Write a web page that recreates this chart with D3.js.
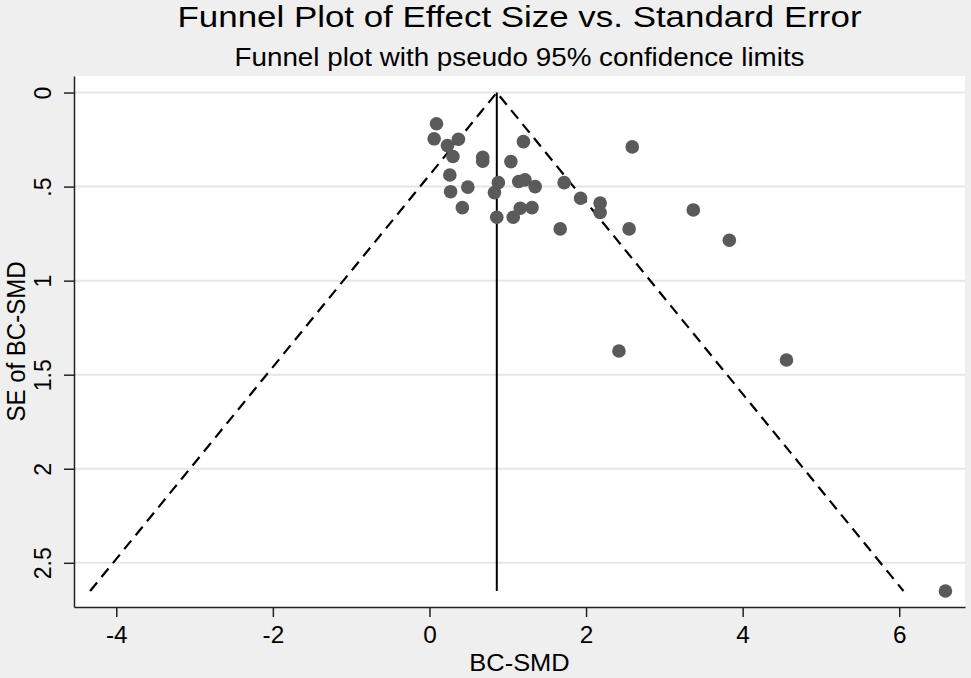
<!DOCTYPE html>
<html lang="en">
<head>
<meta charset="UTF-8">
<title>Funnel Plot of Effect Size vs. Standard Error</title>
<script src="https://d3js.org/d3.v7.min.js"></script>
<style>
  body { margin: 0; background: #efefef; font-family: "Liberation Sans", Arial, sans-serif; }
  svg { display: block; }
  .axis path, .axis line { stroke: #222; }
  .axis text { fill: #000; font-size: 23px; font-family: "Liberation Sans", Arial, sans-serif; }
</style>
</head>
<body>
<svg id="chart" width="971" height="678"></svg>
<script>
  // study effect sizes (BC-SMD) and their standard errors
  const smd = [0.09, 0.06, 0.23, 0.37, 0.30, 0.68, 0.68, 1.04, 1.20, 0.26, 0.27,
               0.49, 0.88, 0.83, 1.14, 1.22, 1.35, 0.42, 0.86, 1.07, 1.16, 1.31,
               1.72, 1.93, 2.18, 2.18, 1.67, 2.55, 3.37, 3.83, 2.42, 4.56, 2.59, 6.59];
  const se  = [0.166, 0.246, 0.282, 0.248, 0.340, 0.344, 0.365, 0.367, 0.261, 0.438, 0.527,
               0.503, 0.479, 0.532, 0.473, 0.464, 0.500, 0.612, 0.663, 0.663, 0.615, 0.612,
               0.479, 0.562, 0.588, 0.638, 0.725, 0.725, 0.624, 0.785, 1.374, 1.422, 0.289, 2.650];
  const pooled = 0.86;
  const xTicks = [-4, -2, 0, 2, 4, 6];
  const yTicks = [0, 0.5, 1, 1.5, 2, 2.5];
  const yTickLabels = ["0", ".5", "1", "1.5", "2", "2.5"];

  const svg = d3.select("#chart");
  const plot = { left: 74, top: 76, right: 965, bottom: 607 };
  const stretch = 1.06; // glyphs in the original are a bit wide

  const x = d3.scaleLinear().domain([-4.54, 6.84]).range([plot.left, plot.right]);
  const y = d3.scaleLinear().domain([-0.088, 2.735]).range([plot.top, plot.bottom]);

  svg.append("rect")
    .attr("x", plot.left).attr("y", plot.top)
    .attr("width", plot.right - plot.left).attr("height", plot.bottom - plot.top)
    .attr("fill", "#fff");

  // gridlines
  svg.append("g").selectAll("line")
    .data(yTicks)
    .join("line")
    .attr("x1", plot.left).attr("x2", plot.right)
    .attr("y1", d => y(d)).attr("y2", d => y(d))
    .attr("stroke", "#e6e6e6").attr("stroke-width", 2);

  // funnel limits
  const maxSe = d3.max(se);
  const funnel = [[pooled - 1.96 * maxSe, maxSe], [pooled, 0], [pooled + 1.96 * maxSe, maxSe]];
  svg.append("path")
    .attr("d", d3.line().x(d => x(d[0])).y(d => y(d[1]))(funnel))
    .attr("fill", "none").attr("stroke", "#000")
    .attr("stroke-width", 2.2).attr("stroke-dasharray", "11,7");

  svg.append("line")
    .attr("x1", x(pooled)).attr("x2", x(pooled))
    .attr("y1", y(0)).attr("y2", y(maxSe))
    .attr("stroke", "#000").attr("stroke-width", 2);

  svg.append("g").selectAll("circle")
    .data(smd.map((d, i) => [d, se[i]]))
    .join("circle")
    .attr("cx", d => x(d[0])).attr("cy", d => y(d[1]))
    .attr("r", 6.8).attr("fill", "#5a5a5a");

  // axes
  const xAxis = svg.append("g").attr("class", "axis")
    .attr("transform", `translate(0,${plot.bottom})`)
    .call(d3.axisBottom(x).tickValues(xTicks).tickFormat(d => String(d))
      .tickSize(10).tickPadding(10).tickSizeOuter(0));
  xAxis.select(".domain").attr("stroke-width", 1.5);
  xAxis.selectAll(".tick line").attr("stroke-width", 1.5);
  xAxis.selectAll(".tick text").attr("transform", `scale(${stretch},1)`);

  const yAxis = svg.append("g").attr("class", "axis")
    .attr("transform", `translate(${plot.left},0)`)
    .call(d3.axisLeft(y).tickValues(yTicks).tickFormat((d, i) => yTickLabels[i])
      .tickSize(10).tickSizeOuter(0));
  yAxis.select(".domain").attr("stroke-width", 1.5);
  yAxis.selectAll(".tick line").attr("stroke-width", 1.5);
  yAxis.selectAll(".tick text")
    .attr("x", 0).attr("dy", 0)
    .attr("text-anchor", "middle")
    .attr("transform", `translate(-23,0) rotate(-90) scale(1,${stretch})`);

  const cx = (plot.left + plot.right) / 2;
  svg.append("text")
    .attr("x", cx).attr("y", 27)
    .attr("text-anchor", "middle")
    .attr("textLength", 684).attr("lengthAdjust", "spacingAndGlyphs")
    .style("font-size", "30px").attr("fill", "#000")
    .text("Funnel Plot of Effect Size vs. Standard Error");
  svg.append("text")
    .attr("x", cx).attr("y", 66)
    .attr("text-anchor", "middle")
    .attr("textLength", 570).attr("lengthAdjust", "spacingAndGlyphs")
    .style("font-size", "25px").attr("fill", "#000")
    .text("Funnel plot with pseudo 95% confidence limits");

  svg.append("text")
    .attr("transform", `translate(${cx},671) scale(${stretch},1)`)
    .attr("text-anchor", "middle")
    .style("font-size", "24px").attr("fill", "#000")
    .text("BC-SMD");
  svg.append("text")
    .attr("transform", `translate(25,${(plot.top + plot.bottom) / 2}) rotate(-90) scale(1,${stretch})`)
    .attr("text-anchor", "middle")
    .style("font-size", "24px").attr("fill", "#000")
    .text("SE of BC-SMD");
</script>
</body>
</html>
